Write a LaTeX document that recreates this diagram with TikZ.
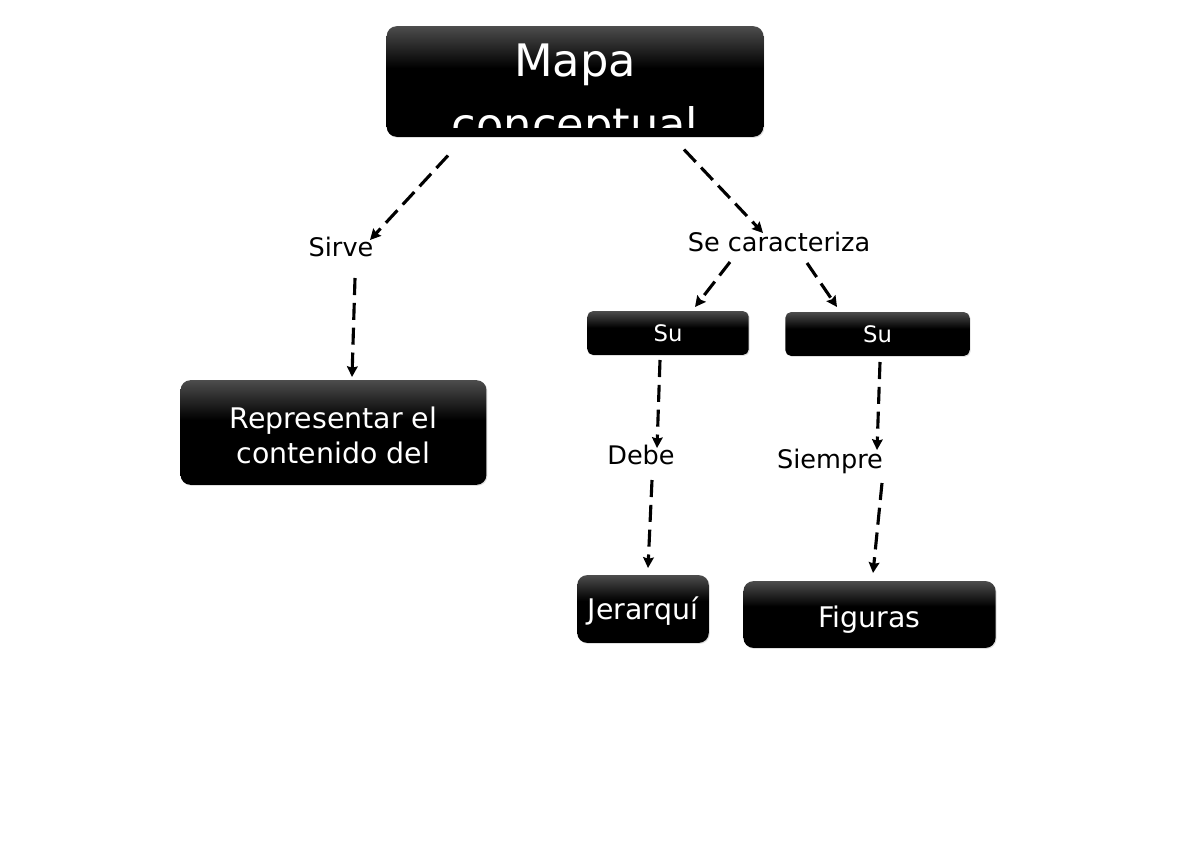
\documentclass[tikz,border=0pt]{standalone}
\usepackage{fontspec}
\setmainfont{DejaVu Sans}
\usetikzlibrary{arrows.meta}
\usetikzlibrary{calc}
\usetikzlibrary{shadows}

% fill of the black boxes: grey at the top, black below
\pgfdeclareverticalshading{boxfill}{100bp}{color(0bp)=(black); color(25bp)=(black); color(56bp)=(black); color(75bp)=(black!70); color(100bp)=(black!70)}
\newcommand{\pxu}{0.7017pt}
\newcommand{\lowered}[2]{\raisebox{-#1}[\height][\depth]{#2}}

\begin{document}
\begin{tikzpicture}[x=0.02475cm, y=-0.02475cm,
    box/.style={shade, shading=boxfill, rounded corners=7pt, text=white, align=center,
      font=\fontsize{20}{24.5}\selectfont,
      drop shadow={opacity=0.25, shadow xshift=0.7pt, shadow yshift=-0.7pt}},
    lbl/.style={font=\fontsize{18}{22}\selectfont, inner sep=0pt, anchor=base},
    link/.style={dash pattern=on 12pt off 5.5pt, line width=2.2pt,
      -{Stealth[length=7.5pt, width=7.5pt, inset=1pt]}}]

    \useasboundingbox (0,0) rectangle (1200,848);

    % boxes
    \node[box, minimum width=378*\pxu, minimum height=111*\pxu] (mapa) at (575,81.5) {};
    \begin{scope}
        \clip (386,26) rectangle (764,128);
        \node[text=white, align=center, anchor=base, font=\fontsize{31.5}{45.3}\selectfont] (titulo) at (575,141) {Mapa\\conceptual};
    \end{scope}
    \node[box, minimum width=307*\pxu, minimum height=105*\pxu] (repr) at (333.5,432.5) {\lowered{2pt}{Representar el}\\\lowered{2pt}{contenido del}};
    \node[box, minimum width=162*\pxu, minimum height=44*\pxu, rounded corners=4pt, font=\fontsize{16}{19}\selectfont] (su1) at (668,333) {Su};
    \node[box, minimum width=185*\pxu, minimum height=44*\pxu, rounded corners=4pt, font=\fontsize{16}{19}\selectfont] (su2) at (877.5,334) {Su};
    \node[box, minimum width=132*\pxu, minimum height=68*\pxu] (jer) at (643,609) {\lowered{1.4pt}{Jerarquí}};
    \node[box, minimum width=253*\pxu, minimum height=67*\pxu] (fig) at (869.5,614.5) {\lowered{3.5pt}{Figuras}};

    % labels
    \node[lbl] (sirve) at (341,257) {Sirve};
    \node[lbl] (secar) at (779,252) {Se caracteriza};
    \node[lbl] (debe) at (641,464) {Debe};
    \node[lbl] (siempre) at (830,468) {Siempre};

    % dashed links
    \draw[link] ($(mapa)+(-127,74)$) -- ($(sirve.base)+(29,-17)$);
    \draw[link] ($(sirve.base)+(14,21)$) -- ($(repr)+(18.5,-55.5)$);
    \draw[link] ($(mapa)+(109,68)$) -- ($(secar.base)+(-16,-19)$);
    \draw[link] ($(secar.base)+(-49,10)$) -- ($(su1)+(27,-26)$);
    \draw[link] ($(secar.base)+(28,11)$) -- ($(su2)+(-40.5,-27)$);
    \draw[link] ($(su1)+(-8,27)$) -- ($(debe.base)+(16,-16)$);
    \draw[link] ($(debe.base)+(11,16)$) -- ($(jer)+(5,-41)$);
    \draw[link] ($(su2)+(2.5,28)$) -- ($(siempre.base)+(47,-18)$);
    \draw[link] ($(siempre.base)+(52,15)$) -- ($(fig)+(3.5,-41.5)$);

\end{tikzpicture}
\end{document}
